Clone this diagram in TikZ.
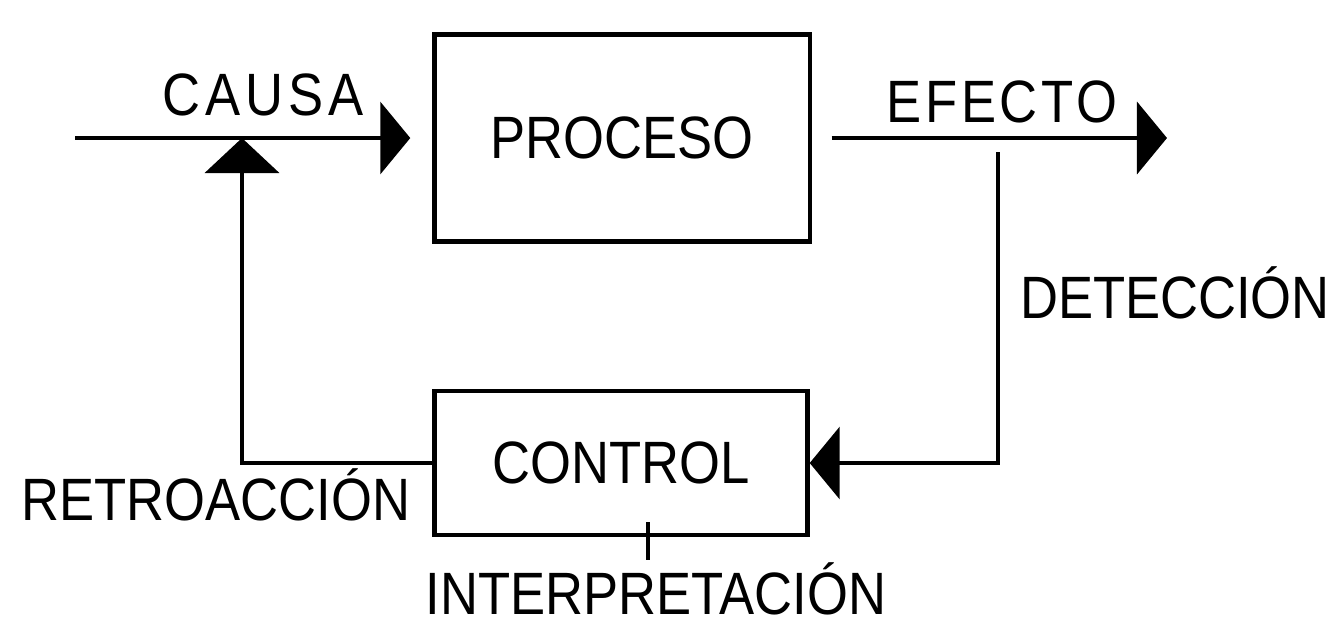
\documentclass[tikz,border=0pt]{standalone}
\usepackage{fontspec}
\newfontfamily\letra{Liberation Sans}[FakeStretch=0.88]
\usetikzlibrary{arrows.meta}

\begin{document}
\begin{tikzpicture}[
  % --- units in pixels of the original sheet (y downwards)
  x=0.01cm, y=-0.01cm,
  line width=1.2pt,
  caja/.style={draw, inner sep=0pt, font=\letra\fontsize{17}{20}\selectfont},
  rotulo/.style={font=\letra\fontsize{17}{20}\selectfont, inner sep=0pt, anchor=base},
  % big filled heads, as drawn by hand
  flecha/.style={-{Triangle[length=0.3cm,width=0.72cm]}},
  flechaalta/.style={-{Triangle[length=0.35cm,width=0.74cm]}},
]
\useasboundingbox (0,0) rectangle (1335,623);

%========================
% Blocks
%========================
\node[caja, minimum width=3.75cm, minimum height=2.07cm] (proceso) at (622,138) {PROCESO};
\node[caja, minimum width=3.73cm, minimum height=1.44cm] (control) at (621,463) {CONTROL};

%========================
% Forward path
%========================
\coordinate (entrada) at (75,138);
\coordinate (suma) at (242,138);
\coordinate (salida) at (1167,138);

\draw[flecha] (entrada) -- ([xshift=-0.22cm]proceso.west);
\draw[flecha] ([xshift=0.2cm]proceso.east) -- (salida);

\node[rotulo] (causa) at (263,115) {\addfontfeature{LetterSpace=8}CAUSA};
\node[rotulo] (efecto) at (1002,122) {\addfontfeature{LetterSpace=6}EFECTO};

%========================
% Feedback loop
%========================
\coordinate (sensor) at (998,152);
\draw[flecha] (sensor) |- (control.east);
\draw[flechaalta] (control.west) -| (suma);

\node[rotulo] (deteccion) at (1175,318) {DETECCIÓN};
\node[rotulo] (retro) at (216,520) {RETROACCIÓN};

% interpretation tick under the control block
\node[rotulo] (interp) at (656,614) {INTERPRETACIÓN};
\coordinate (marca) at (648,522);
\draw (marca) -- (marca |- interp.north);

\end{tikzpicture}
\end{document}
